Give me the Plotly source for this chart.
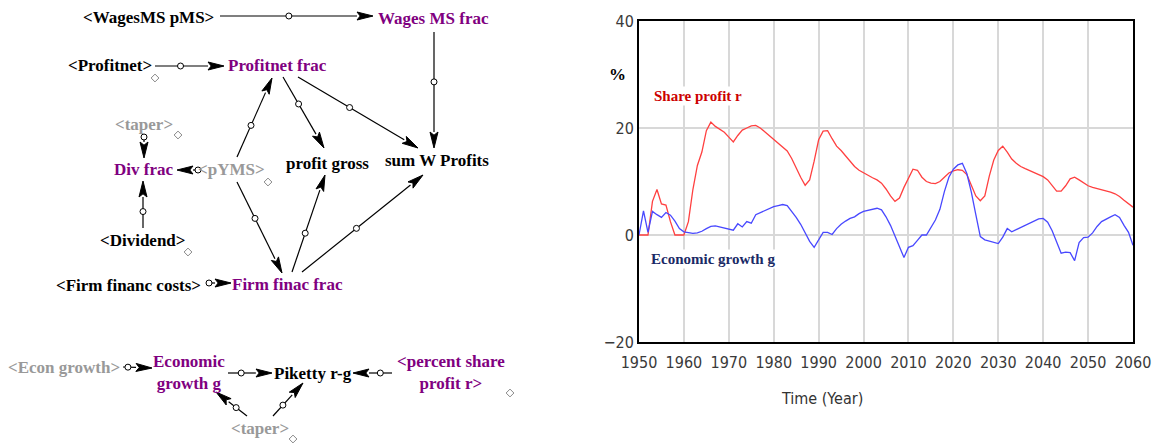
import math
import plotly.graph_objects as go

# ---- chart data ----
years = list(range(1950, 2061))

share_profit_r = [
    0, 0, 0, 6.3, 8.5, 5.8, 5.6, 2.5, 0, 0,                    # 1950s
    0, 2.5, 8.5, 13.0, 15.5, 19.5, 21.1, 20.3, 19.8, 19.2,     # 1960s
    18.3, 17.4, 18.6, 19.6, 20.0, 20.4, 20.5, 20.0, 19.3, 18.6,  # 1970s
    17.9, 17.2, 16.5, 15.7, 14.3, 12.5, 10.8, 9.3, 10.3, 13.8,   # 1980s
    17.8, 19.4, 19.5, 18.0, 16.6, 15.8, 14.8, 13.8, 12.8, 12.1,  # 1990s
    11.6, 11.1, 10.7, 10.3, 9.7, 8.6, 7.3, 6.3, 6.9, 8.9,       # 2000s
    10.6, 12.3, 12.1, 10.8, 10.0, 9.7, 9.6, 10.0, 10.8, 11.6,   # 2010s
    12.0, 12.2, 12.1, 11.3, 9.3, 7.3, 6.4, 7.3, 11.0, 14.0,     # 2020s
    15.8, 16.6, 15.5, 14.2, 13.4, 12.8, 12.4, 12.0, 11.6, 11.2,  # 2030s
    10.9, 10.3, 9.2, 8.2, 8.2, 9.2, 10.5, 10.8, 10.3, 9.7,      # 2040s
    9.2, 8.9, 8.7, 8.4, 8.2, 8.0, 7.7, 7.2, 6.5, 5.8,           # 2050s
    5.2,
]

econ_growth_g = [
    0, 4.5, 0.5, 4.4, 3.8, 3.3, 4.2, 3.7, 2.6, 1.2,
    0.6, 0.4, 0.3, 0.4, 0.7, 1.2, 1.6, 1.7, 1.5, 1.3,
    1.2, 0.9, 2.1, 1.5, 2.5, 2.2, 3.8, 4.2, 4.6, 5.0,
    5.3, 5.5, 5.7, 5.5, 4.5, 3.3, 2.0, 0.4, -1.2, -2.3,
    -0.9, 0.5, 0.5, 0.1, 1.2, 2.0, 2.6, 3.1, 3.4, 4.0,
    4.4, 4.6, 4.9, 5.0, 4.7, 3.4, 1.8, -0.3, -2.3, -4.2,
    -2.3, -2.0, -1.0, 0, 0, 1.5, 2.8, 4.8, 8.1, 10.8,
    12.3, 13.1, 13.4, 11.5, 8.0, 3.8, -0.3, -0.9, -1.1, -1.3,
    -1.6, -0.4, 1.2, 0.6, 1.0, 1.4, 1.9, 2.3, 2.7, 3.0,
    3.1, 2.4, 0.8, -1.5, -3.4, -3.2, -3.3, -4.8, -1.4, -0.5,
    -0.4, 0.4, 1.6, 2.5, 3.0, 3.4, 3.8, 3.3, 1.8, 0.5,
    -1.9,
]

x_ticks = list(range(1950, 2061, 10))
y_ticks = [-20, 0, 20, 40]

# ---- causal diagram on the left (pixel coords, y down) ----
PURPLE = "#800080"
GREY = "#999999"
nodes = [
    ("&lt;WagesMS pMS&gt;", 148, 17, "black"),
    ("Wages MS frac", 433, 18, PURPLE),
    ("&lt;Profitnet&gt;", 110, 65, "black"),
    ("Profitnet frac", 277, 65, PURPLE),
    ("&lt;taper&gt;", 144, 124, GREY),
    ("Div frac", 143, 169, PURPLE),
    ("&lt;pYMS&gt;", 231, 169, GREY),
    ("profit gross", 327, 163, "black"),
    ("sum W Profits", 437, 160, "black"),
    ("&lt;Dividend&gt;", 143, 240, "black"),
    ("&lt;Firm financ costs&gt;", 128, 285, "black"),
    ("Firm finac frac", 287, 284, PURPLE),
    ("&lt;Econ growth&gt;", 64, 367, GREY),
    ("Economic<br>growth g", 189, 372, PURPLE),
    ("Piketty r-g", 313, 373, "black"),
    ("&lt;percent share<br>profit r&gt;", 451, 372, PURPLE),
    ("&lt;taper&gt;", 260, 428, GREY),
]

# tail x, tail y, head x, head y, where the little circle sits (0..1)
links = [
    (220, 16, 373, 16, 0.45),
    (155, 66, 224, 66, 0.37),
    (434, 32, 434, 148, 0.43),
    (144, 137, 144, 158, 0.0),
    (198, 170, 177, 170, 0.0),
    (283, 77, 324, 148, 0.38),
    (298, 77, 418, 148, 0.43),
    (237, 157, 272, 78, 0.4),
    (237, 182, 282, 273, 0.4),
    (292, 272, 325, 175, 0.4),
    (302, 272, 423, 175, 0.45),
    (143, 228, 143, 181, 0.35),
    (206, 283, 231, 283, 0.12),
    (123, 367, 152, 368, 0.17),
    (228, 373, 272, 373, 0.3),
    (392, 373, 353, 373, 0.3),
    (247, 416, 216, 392, 0.35),
    (273, 416, 303, 383, 0.33),
]

diamond_x = [155, 178, 268, 188, 510, 293]
diamond_y = [78, 135, 182, 252, 393, 439]

fig = go.Figure()

fig.add_trace(go.Scatter(x=years, y=share_profit_r, mode="lines",
                         line=dict(color="#ff4040", width=1.3), showlegend=False))
fig.add_trace(go.Scatter(x=years, y=econ_growth_g, mode="lines",
                         line=dict(color="#4848ff", width=1.3), showlegend=False))

# arrows of the diagram
shapes = []
circ_x, circ_y = [], []
HL, HW = 16, 4
for x0, y0, x1, y1, t in links:
    L = math.hypot(x1 - x0, y1 - y0)
    dx, dy = (x1 - x0) / L, (y1 - y0) / L
    hl = min(HL, L * 0.8)
    bx, by = x1 - dx * hl, y1 - dy * hl
    nx, ny = -dy, dx
    shapes.append(dict(type="line", xref="x2", yref="y2", x0=x0, y0=y0, x1=bx, y1=by,
                       layer="below", line=dict(color="black", width=1.2)))
    mx, my = x1 - dx * hl * 0.8, y1 - dy * hl * 0.8
    path = (f"M{x1},{y1} L{bx + nx * HW},{by + ny * HW} L{mx},{my} "
            f"L{bx - nx * HW},{by - ny * HW} Z")
    shapes.append(dict(type="path", xref="x2", yref="y2", path=path, layer="below",
                       fillcolor="black", line=dict(color="black", width=1)))
    circ_x.append(x0 + (x1 - x0) * t)
    circ_y.append(y0 + (y1 - y0) * t)

fig.add_trace(go.Scatter(x=circ_x, y=circ_y, xaxis="x2", yaxis="y2", mode="markers",
                         marker=dict(symbol="circle", size=6, color="white",
                                     line=dict(color="black", width=1)),
                         showlegend=False, hoverinfo="skip"))
fig.add_trace(go.Scatter(x=diamond_x, y=diamond_y, xaxis="x2", yaxis="y2", mode="markers",
                         marker=dict(symbol="diamond-open", size=6, color="#888888",
                                     line=dict(width=1)),
                         showlegend=False, hoverinfo="skip"))

annotations = []
for txt, x, y, col in nodes:
    annotations.append(dict(text=f"<b>{txt}</b>", x=x, y=y, xref="x2", yref="y2",
                            showarrow=False, xanchor="center", yanchor="middle",
                            font=dict(family="Liberation Serif, Times New Roman, serif",
                                      size=17, color=col)))

serif = "Liberation Serif, Times New Roman, serif"
narrow = "DejaVu Sans Condensed, Liberation Sans Narrow, Arial Narrow, sans-serif"
annotations += [
    dict(text="<b>%</b>", x=617 / 1154, y=(443 - 63) / 443, xref="paper", yref="paper",
         showarrow=False, font=dict(family=serif, size=17, color="black")),
    dict(text="<b>Share profit r</b>", x=1953.0, y=26, xref="x", yref="y",
         xanchor="left", showarrow=False, bgcolor="white",
         font=dict(family=serif, size=15, color="#cc0000")),
    dict(text="<b>Economic growth g</b>", x=1952.2, y=-4.5, xref="x", yref="y",
         xanchor="left", showarrow=False, bgcolor="white",
         font=dict(family=serif, size=15, color="#1a2a66")),
    dict(text="Time (Year)", x=865 / 1154, y=(443 - 410) / 443, xref="paper", yref="paper",
         showarrow=False, font=dict(family=narrow, size=16, color="#333333")),
]

fig.update_layout(
    width=1154, height=443,
    margin=dict(l=0, r=0, t=0, b=0),
    paper_bgcolor="white", plot_bgcolor="white",
    shapes=shapes, annotations=annotations,
    xaxis=dict(domain=[639 / 1154, 1133 / 1154], range=[1950, 2060], automargin=False,
               tickvals=x_ticks, showgrid=True, gridcolor="#d8d8d8", gridwidth=1.5,
               showline=True, linecolor="black", linewidth=2, mirror=True,
               ticks="", zeroline=False, ticklabelstandoff=5,
               tickfont=dict(family=narrow, size=16, color="#3a3a3a")),
    yaxis=dict(domain=[(443 - 342) / 443, (443 - 21) / 443], range=[-20, 40], automargin=False,
               tickvals=y_ticks, showgrid=True, gridcolor="#d8d8d8", gridwidth=2,
               showline=True, linecolor="black", linewidth=2, mirror=True,
               ticks="", zeroline=False,
               tickfont=dict(family=narrow, size=16, color="#3a3a3a")),
    xaxis2=dict(domain=[0, 0.5], range=[0, 577], visible=False, anchor="y2", automargin=False),
    yaxis2=dict(domain=[0, 1], range=[443, 0], visible=False, anchor="x2", automargin=False),
)

# the page's default body margin would push the figure 8px down and right
fig.write_html("out.html", config={"displayModeBar": False},
               post_script="document.body.style.margin='0';"
                           "document.body.style.overflow='hidden';")
